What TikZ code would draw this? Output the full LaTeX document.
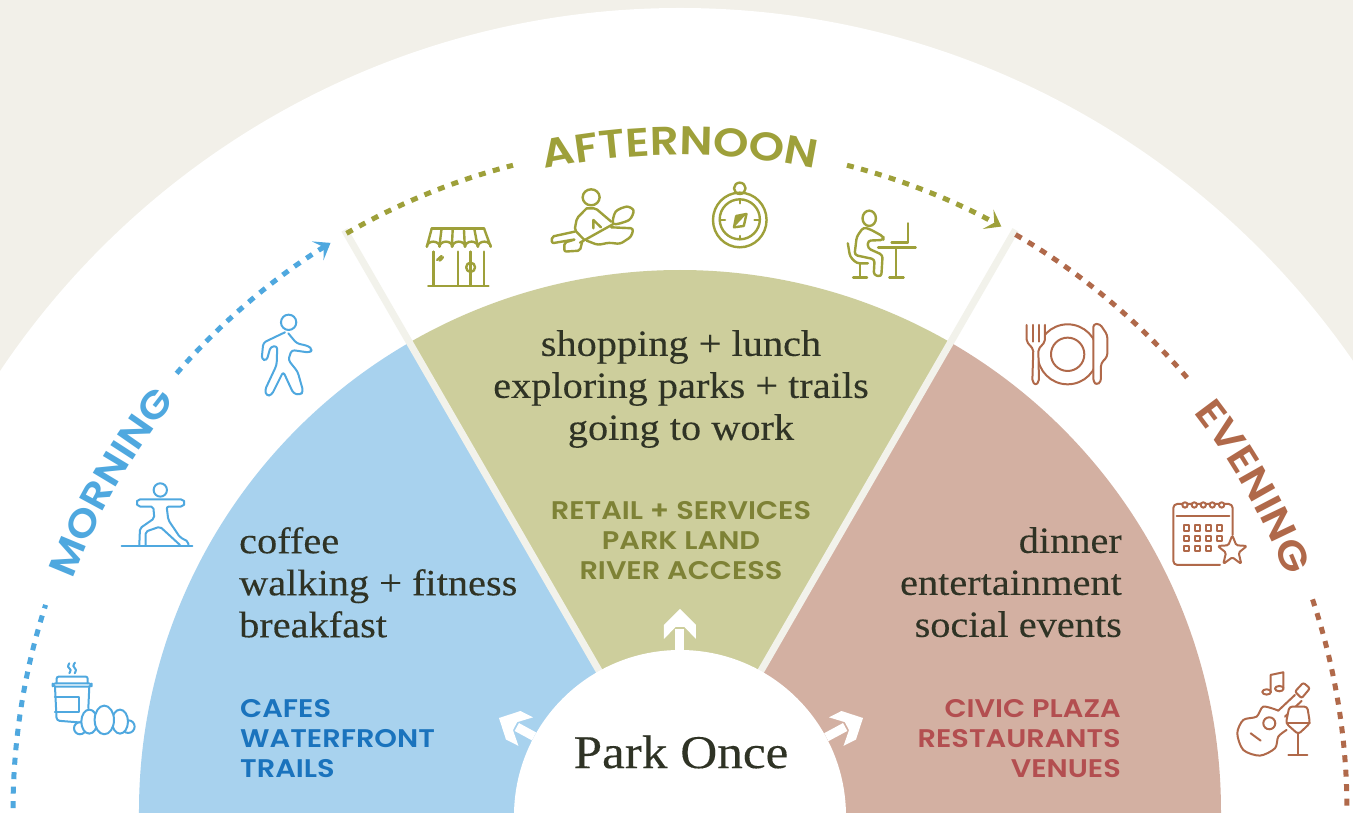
\documentclass[tikz,border=0pt]{standalone}
\usepackage{fontspec}
\setmainfont{Liberation Serif}[FakeStretch=1.09,FakeBold=0.2]
\setsansfont{Poppins SemiBold}[FakeStretch=1.13]
\usetikzlibrary{arrows.meta}
\usetikzlibrary{shapes.geometric}
\usetikzlibrary{decorations.text}

\definecolor{paper}{HTML}{F2F0E9}
\definecolor{rule}{HTML}{F2F2EB}
\definecolor{ink}{HTML}{2F3325}
\definecolor{skyfill}{HTML}{A8D2EE}
\definecolor{olivefill}{HTML}{CDCE9C}
\definecolor{clayfill}{HTML}{D3B0A2}
\definecolor{skyline}{HTML}{4FA8DF}
\definecolor{oliveline}{HTML}{9EA03A}
\definecolor{clayline}{HTML}{B0694A}
\definecolor{skytext}{HTML}{1A73BD}
\definecolor{olivetext}{HTML}{7E8236}
\definecolor{claytext}{HTML}{B34E50}

\begin{document}
\begin{tikzpicture}[
            x = 1pt, y = 1pt,
            > = {Stealth[length=15pt,width=22pt,inset=7pt]}, % arrow head style
            parkhead/.pic = {
                \fill[white] (0,0) -- (-16,16) -- (-30,16) -- (-18,4.5) -- (-18,-4.5) -- (-30,-16) -- (-16,-16) -- cycle;
            },
            crop/.style n args = {3}{shift={(#1-680,811-#2)}, x=#3, y=-.3333pt}
        ]

        \tikzstyle{walk}=[line width = 5pt, dash pattern = on 7pt off 7.5pt]
        \tikzstyle{divider}=[draw = rule, line width = 7pt]
        \tikzstyle{shaft}=[draw = white, line width = 9pt]
        \tikzstyle{activity}=[text = ink, font = \fontsize{37}{42}\selectfont, inner sep = 0pt]
        \tikzstyle{place}=[font = \sffamily\fontsize{25.5}{30}\selectfont, inner sep = 0pt]
        \tikzstyle{icon}=[line width = 2pt, line join = round, line cap = round]

        \path[use as bounding box, clip] (-680,-2) rectangle (673,811);
        \fill[paper] (-680,-2) rectangle (673,811);
        \fill[white] (0,-15) circle [radius = 818];

	% SECTORS
        \fill[skyfill] (0,-5) -- (-541,-5) -- (180:541) arc [start angle = 180, end angle = 120, radius = 541] -- cycle;
        \fill[olivefill] (0,0) -- (120:541) arc [start angle = 120, end angle = 60, radius = 541] -- cycle;
        \fill[clayfill] (0,-5) -- (541,-5) -- (0:541) arc [start angle = 0, end angle = 60, radius = 541] -- cycle;

        \coordinate (leftRim) at (120:671);
        \coordinate (rightRim) at (60:671);
        \coordinate (centre) at (0,0);
        \path[divider] (centre) -- (leftRim);
        \path[divider] (centre) -- (rightRim);

	% PARK ONCE HUB
        \node[circle, fill = white, minimum size = 332pt, inner sep = 0pt] (hub) at (0,-5) {};
        \node[text = ink, font = \fontsize{47}{47}\selectfont, inner sep = 0pt] (once) at (1,59) {Park Once};

        \coordinate (upBack) at (0,182);
        \coordinate (upTip) at (0,202);
        \coordinate (leftBack) at (-163.2,84);
        \coordinate (leftTip) at (-181,93);
        \coordinate (rightBack) at (165.2,84);
        \coordinate (rightTip) at (183,93);
        \path[shaft] (hub) -- (upBack);
        \path[shaft] (hub) -- (leftBack);
        \path[shaft] (hub) -- (rightBack);
        \pic[rotate = 90] at (upTip) {parkhead};
        \pic[rotate = 153] at (leftTip) {parkhead};
        \pic[rotate = 27] at (rightTip) {parkhead};

	% ACTIVITIES
        \node[activity, align = left, anchor = north west] (morningList) at (-441,284) {coffee\\walking + fitness\\breakfast};
        \node[activity, align = center, anchor = north] (afternoonList) at (1,481) {shopping + lunch\\exploring parks + trails\\going to work};
        \node[activity, align = right, anchor = north east] (eveningList) at (442,284) {dinner\\entertainment\\social events};

        \node[place, text = skytext, align = left, anchor = north west] (morningPlaces) at (-440,112) {CAFES\\WATERFRONT\\TRAILS};
        \node[place, text = olivetext, align = center, anchor = north] (afternoonPlaces) at (1,310) {RETAIL + SERVICES\\PARK LAND\\RIVER ACCESS};
        \node[place, text = claytext, align = right, anchor = north east] (eveningPlaces) at (441,112) {CIVIC PLAZA\\RESTAURANTS\\VENUES};

	% DOTTED WALK
        \draw[walk, skyline] (181:667) arc [start angle = 181, end angle = 162, radius = 667];
        \draw[walk, skyline, ->] (139:667) arc [start angle = 139, end angle = 121.6, radius = 667];
        \draw[walk, oliveline] (120:667) arc [start angle = 120, end angle = 104.5, radius = 667];
        \draw[walk, oliveline, ->] (75.5:667) arc [start angle = 75.5, end angle = 61.2, radius = 667];
        \draw[walk, clayline] (59.8:667) arc [start angle = 59.8, end angle = 40.5, radius = 667];
        \draw[walk, clayline] (18.5:667) arc [start angle = 18.5, end angle = -1, radius = 667];

	% TIME OF DAY HEADINGS
        \path[decorate, decoration = {text along path, text align = center,
            text = {|\sffamily\fontsize{38}{38}\selectfont\color{skyline}|MORNING}}]
            (165:650) arc [start angle = 165, end angle = 135, radius = 650];
        \path[decorate, decoration = {text along path, text align = center,
            text = {|\sffamily\fontsize{40}{40}\selectfont\color{oliveline}|AFTERNOON}}]
            (105:656) arc [start angle = 105, end angle = 75, radius = 656];
        \path[decorate, decoration = {text along path, text align = center,
            text = {|\sffamily\fontsize{39}{39}\selectfont\color{clayline}|EVENING}}]
            (39.5:650) arc [start angle = 39.5, end angle = 19.5, radius = 650];

	% MORNING ICONS
        \begin{scope}[crop = {0}{300}{.3333pt}, icon, color = skyline]
            \draw (866,67) circle [radius = 23];
            \draw[rounded corners = 3pt] (855,97) -- (790,128) -- (785,178) -- (800,182) -- (812,140) -- (832,138) -- (830,195) -- (795,270) -- (800,288) -- (815,285) -- (850,215) -- (880,280) -- (900,285) -- (910,275) -- (893,215) -- (865,180) -- (875,150) -- (930,158) -- (937,148) -- (925,138) -- (890,130) -- (865,100);

            \draw (481,570) circle [radius = 20];
            \draw[rounded corners = 2pt] (418,735) -- (420,685) -- (463,655) -- (460,620) -- (415,620) -- (408,608) -- (415,598) -- (548,598) -- (556,608) -- (548,620) -- (500,620) -- (505,660) -- (540,712) -- (565,725) -- (565,735);
            \draw[rounded corners = 2pt] (437,735) -- (437,695) -- (480,680) -- (540,735);
            \draw (365,738) -- (577,738);

            \draw plot[smooth] coordinates {(208,1090) (204,1100) (212,1110) (208,1120)};
            \draw plot[smooth] coordinates {(225,1088) (220,1098) (228,1110) (224,1120)};
            \draw[rounded corners = 2pt] (170,1150) -- (170,1130) -- (263,1130) -- (263,1150);
            \draw[rounded corners = 3pt] (158,1150) rectangle (275,1160);
            \draw[rounded corners = 3pt] (165,1160) -- (170,1262) -- (245,1268);
            \draw (268,1160) -- (265,1225);
            \draw (165,1190) -- (238,1190) -- (238,1235) -- (165,1235);
            \draw[fill = white] (240,1285) circle [radius = 18];
            \draw[fill = white] (385,1280) circle [radius = 19];
            \draw[fill = white] (268,1265) ellipse [x radius = 24, y radius = 36];
            \draw[fill = white] (360,1265) ellipse [x radius = 24, y radius = 36];
            \draw[fill = white] (313,1260) ellipse [x radius = 29, y radius = 43];
        \end{scope}

	% AFTERNOON ICONS
        \begin{scope}[crop = {330}{120}{.4464pt}, icon, color = oliveline, line width = 2.4pt]
            \draw (228,325) -- (345,325);
            \draw (228,325) -- (217,380);
            \draw (345,325) -- (360,380);
            \draw (250,325) -- (245,380);
            \draw (275,325) -- (273,380);
            \draw (300,325) -- (302,380);
            \draw (323,325) -- (331,380);
            \draw (217,380) arc [start angle = 180, end angle = 360, x radius = 14.3, y radius = 15]
                arc [start angle = 180, end angle = 360, x radius = 14.3, y radius = 15]
                arc [start angle = 180, end angle = 360, x radius = 14.3, y radius = 15]
                arc [start angle = 180, end angle = 360, x radius = 14.3, y radius = 15]
                arc [start angle = 180, end angle = 360, x radius = 14.3, y radius = 15];
            \draw (232,395) -- (232,497);
            \draw (345,395) -- (345,497);
            \draw (220,498) -- (355,498);
            \draw (287,395) -- (287,497);
            \draw (315,395) -- (315,497);
            \draw (315,442) ellipse [x radius = 10, y radius = 14];
            \draw (240,420) -- (250,408);
            \draw (246,422) -- (253,412);

            \draw (585,232) ellipse [x radius = 19, y radius = 24];
            \draw[rounded corners = 2pt] (575,265) -- (553,295) -- (548,330) -- (570,360);
            \draw[rounded corners = 2pt] (575,265) -- (595,265) -- (630,305);
            \draw (590,325) -- (590,300) -- (607,322);
            \draw plot[smooth cycle] coordinates {(635,312) (640,275) (665,260) (680,272) (670,300)};
            \draw (635,312) -- (560,368);
            \draw[rounded corners = 2pt] (548,335) -- (497,350) -- (497,370) -- (550,358) -- (525,368) -- (525,395) -- (560,392) -- (565,365);
            \draw[rounded corners = 3pt] (630,322) -- (680,325) -- (675,350) -- (650,372) -- (625,368) -- (600,375) -- (575,362);

            \draw (918,205) ellipse [x radius = 13, y radius = 17];
            \draw (918,300) ellipse [x radius = 60, y radius = 82];
            \draw (918,298) ellipse [x radius = 45, y radius = 60];
            \draw (918,240) -- (918,250);
            \draw (918,348) -- (918,358);
            \draw (873,300) -- (885,300);
            \draw (951,300) -- (963,300);
            \draw (905,322) -- (910,288) -- (933,282) -- (927,318) -- cycle;
            \fill[oliveline] (910,288) -- (933,282) -- (905,322) -- cycle;

            \draw (1208,295) ellipse [x radius = 15, y radius = 23];
            \draw[rounded corners = 3pt] (1195,322) -- (1180,350) -- (1175,405) -- (1220,418) -- (1218,465) -- (1235,470) -- (1238,405) -- (1205,385) -- (1205,362) -- (1240,360) -- (1240,350) -- (1210,328) -- cycle;
            \draw[rounded corners = 3pt] (1160,370) -- (1165,410) -- (1180,430) -- (1205,430);
            \draw (1187,430) -- (1187,472);
            \draw (1172,473) -- (1203,473);
            \draw (1228,382) -- (1312,382);
            \draw (1268,382) -- (1268,472);
            \draw (1253,473) -- (1285,473);
            \draw (1295,310) -- (1295,368) -- (1258,368);
        \end{scope}

	% EVENING ICONS
        \begin{scope}[crop = {1000}{300}{.3333pt}, icon, color = clayline]
            \draw (203,163) circle [radius = 90];
            \draw (203,163) circle [radius = 50];
            \draw[fill = white, rounded corners = 2pt] (80,75) -- (80,125) -- (100,148) -- (97,245) -- (107,255) -- (117,245) -- (115,148) -- (135,125) -- (135,75);
            \draw (100,75) -- (100,125);
            \draw (117,75) -- (117,125);
            \draw[fill = white, rounded corners = 3pt] (280,72) -- (300,72) -- (322,105) -- (322,170) -- (303,190) -- (303,245) -- (290,255) -- (280,245) -- cycle;

            \draw[rounded corners = 4pt] (660,795) -- (520,795) -- (520,612) -- (698,612) -- (698,705);
            \draw (530,647) -- (688,647);
            \foreach \ringx in {555,583,610,637,665} {
                \draw[fill = white] (\ringx,615) circle [radius = 8];
            }
            \foreach \cellx in {560,592,626,658} {
                \foreach \celly in {684,715} {
                    \draw (\cellx-8,\celly-8) rectangle (\cellx+8,\celly+8);
                }
            }
            \foreach \cellx in {560,592,626} {
                \draw (\cellx-8,746-8) rectangle (\cellx+8,746+8);
            }
            \draw[fill = white, rounded corners = 1.5pt] (697,706) -- (709,736) -- (741,738) -- (716,758) -- (724,792) -- (697,772) -- (670,792) -- (678,758) -- (653,738) -- (685,736) -- cycle;

            \draw (800,1176) ellipse [x radius = 13, y radius = 8];
            \draw (838,1166) ellipse [x radius = 13, y radius = 8];
            \draw (812,1174) -- (812,1125) -- (850,1117) -- (850,1164);
            \draw plot[smooth] coordinates {(835,1232) (790,1220) (770,1250) (730,1260) (712,1300) (730,1350) (780,1367) (825,1345) (835,1310) (860,1290)};
            \draw (808,1270) circle [radius = 18];
            \draw (752,1300) -- (782,1322);
            \draw (835,1232) -- (885,1185);
            \draw (855,1250) -- (905,1203);
            \draw[rounded corners = 2pt] (885,1175) -- (910,1148) -- (930,1165) -- (905,1195) -- cycle;
            \draw[fill = white, rounded corners = 3pt] (868,1220) -- (858,1270) -- (895,1303) -- (930,1270) -- (922,1220) -- cycle;
            \draw (860,1270) -- (930,1270);
            \draw (893,1303) -- (893,1362);
            \draw (865,1365) -- (922,1365);
        \end{scope}

  \end{tikzpicture}
\end{document}
